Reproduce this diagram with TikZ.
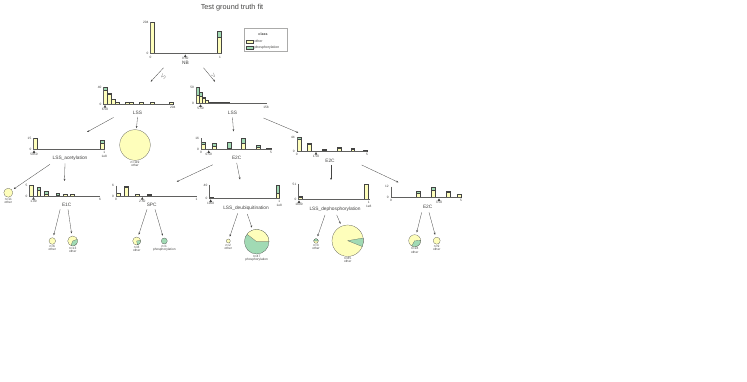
\documentclass[tikz,border=0pt]{standalone}
\usepackage{fontspec}
\setmainfont{Liberation Sans}
\usetikzlibrary{arrows.meta,positioning}
\definecolor{ink}{HTML}{444443}
\definecolor{yel}{HTML}{FEFEBB}
\definecolor{grn}{HTML}{A1DAB4}

\begin{document}
\begin{tikzpicture}[x=1pt, y=-1pt, >={Stealth[length=2.2pt,width=1.8pt]},
  ybox/.style={fill=yel, draw=ink, line width=0.15pt},
  gbox/.style={fill=grn, draw=ink, line width=0.15pt},
  spine/.style={draw=ink!85, line width=0.35pt},
  tk/.style={font=\fontsize{3.2}{3.4}\selectfont, text=ink, inner sep=0.3pt},
  feat/.style={font=\fontsize{4.8}{5}\selectfont, text=ink, inner sep=0.5pt},
  splitmark/.style={fill=ink},
  arr/.style={->, draw=ink, line width=0.3pt},
  leaf/.style={circle, draw=ink, fill=yel, line width=0.2pt, inner sep=0pt},
  lab/.style={font=\fontsize{3.2}{3.3}\selectfont, text=ink, align=center, inner sep=0.3pt},
  legtxt/.style={font=\fontsize{3.5}{4}\selectfont, text=ink, inner sep=0.3pt}]
  \fill[white] (0,0) rectangle (747,382);
  \useasboundingbox (0,0) rectangle (747,382);
  \node[font=\fontsize{7.3}{8}\selectfont, text=ink] (title) at (232,8) {Test ground truth fit};

  % legend
  \node[draw=ink!45, line width=0.3pt, minimum width=42.4pt, minimum height=23pt, inner sep=0pt] (legend) at (265.5,40) {};
  \node[legtxt, font=\fontsize{3.6}{4}\selectfont\bfseries] (legtitle) at (263,34.3) {class};
  \draw[ybox] (246.3,39.8) rectangle (252.7,43.2);
  \draw[gbox] (246.3,45.6) rectangle (252.7,49);
  \node[legtxt, anchor=west] (legother) at (254,41.5) {other};
  \node[legtxt, anchor=west] (legphos) at (254,47.3) {phosphorylation};

  % root: NB
  \draw[ybox] (150.5,53.5) rectangle (154.3,22.3);
  \draw[ybox] (217.3,53.5) rectangle (221,37.3);
  \draw[gbox] (217.3,37.3) rectangle (221,30.7);
  \draw[spine] (150.5,22.3) -- (150.5,53.5) -- (221.5,53.5);
  \node[tk, anchor=east] at (149,22.3) {204};
  \node[tk, anchor=east] at (149,53.5) {0};
  \node[tk] at (150.5,57) {0};
  \node[tk] at (220,57) {1};
  \fill[splitmark] (185.3,54.5) -- ++(-1.4,2.6) -- ++(2.8,0) -- cycle;
  \node[tk] at (185.3,58.8) {0.50};
  \node[feat] (nb) at (185.5,62.8) {NB};

  % level 1, left: LSS
  \foreach \l/\r/\y/\g in {103.5/107/89.7/87.3, 107/111/94.3/93.5, 111/115/99/99, 115/119/101.7/101.7,
      125/129/102.3/101.6, 129/133/101.7/101.7, 139.3/143.3/102.3/102.3, 150/154/102.3/101.6, 169.3/172.7/101.7/101.7} {
    \draw[ybox] (\l,104) rectangle (\r,\y);
    \draw[gbox] (\l,\y) rectangle (\r,\g);
  }
  \draw[spine] (103.5,87.3) -- (103.5,104) -- (173,104);
  \node[tk, anchor=east] at (102,87.3) {40};
  \node[tk, anchor=east] at (102,104) {0};
  \node[tk] at (172.7,107.5) {204};
  \fill[splitmark] (105,105) -- ++(-1.4,2.6) -- ++(2.8,0) -- cycle;
  \node[tk] at (105,109.2) {6.50};
  \node[feat] (lssA) at (137.5,113) {LSS};

  % level 1, right: LSS
  \foreach \l/\r/\y/\g in {196/199/95/87.3, 199/202/96/91.7, 202/205/98.3/97.5, 205/208/100.5/100.5, 208/211/101.7/101.7} {
    \draw[ybox] (\l,103.3) rectangle (\r,\y);
    \draw[gbox] (\l,\y) rectangle (\r,\g);
  }
  \draw[ink, line width=0.9pt] (211,102.8) -- (230,102.8);
  \draw[spine] (196,87.3) -- (196,103.3) -- (266.7,103.3);
  \node[tk, anchor=east] at (194.5,87.3) {50};
  \node[tk, anchor=east] at (194.5,103.3) {0};
  \node[tk] at (266,107) {158};
  \fill[splitmark] (200.5,104.3) -- ++(-1.4,2.6) -- ++(2.8,0) -- cycle;
  \node[tk] at (200.5,108.6) {5.50};
  \node[feat] (lssB) at (232.5,113) {LSS};

  \coordinate (t-lssA) at (150.7,81.7);
  \coordinate (t-lssB) at (215,81.7);
  \draw[arr] ([xshift=-22pt,yshift=-5pt]nb.center) -- (t-lssA);
  \draw[arr] ([xshift=18pt,yshift=-5pt]nb.center) -- (t-lssB);
  \node[rotate=48, font=\fontsize{4}{4}\selectfont, text=ink, inner sep=0pt] (le) at (163.3,76.5) {$\le$};
  \node[rotate=-50, font=\fontsize{4}{4}\selectfont, text=ink, inner sep=0pt] (gt) at (213.5,76) {$>$};

  % level 2: LSS_acetylation
  \draw[ybox] (33.3,149.3) rectangle (37,138.3);
  \draw[ybox] (100.3,149.3) rectangle (104.3,142.7);
  \draw[gbox] (100.3,142.7) rectangle (104.3,140);
  \draw[spine] (33.3,138.3) -- (33.3,149.3) -- (104.5,149.3);
  \node[tk, anchor=east] at (31.8,138.3) {15};
  \node[tk, anchor=east] at (31.8,149.3) {0};
  \node[tk] at (104.3,152.8) {1};
  \node[tk] at (104.3,156.3) {1e8};
  \fill[splitmark] (34,150.3) -- ++(-1.4,2.6) -- ++(2.8,0) -- cycle;
  \node[tk] at (34,154.5) {5950};
  \node[feat] (acet) at (70,158.3) {LSS\_acetylation};

  % level 2: leaf under LSS
  \node[leaf, minimum size=30.6pt] (leafA) at (135,145) {};
  \node[lab, below=0.4pt of leafA] {n=119\\other};

  % level 2: E2C (middle)
  \foreach \l/\r/\y/\g in {201/205/143.7/141.7, 212/216/146.3/143.3, 227.3/231/148.3/141.7, 241/245/143.3/138.3, 256/260/147/145} {
    \draw[ybox] (\l,149.3) rectangle (\r,\y);
    \draw[gbox] (\l,\y) rectangle (\r,\g);
  }
  \draw[ink, line width=0.9pt] (266,148.8) -- (271.5,148.8);
  \draw[spine] (201,138.3) -- (201,149.3) -- (272,149.3);
  \node[tk, anchor=east] at (199.5,138.3) {16};
  \node[tk, anchor=east] at (199.5,149.3) {0};
  \node[tk] at (201,152.8) {0};
  \node[tk] at (271,152.8) {5};
  \fill[splitmark] (208.7,150.3) -- ++(-1.4,2.6) -- ++(2.8,0) -- cycle;
  \node[tk] at (208.7,154.5) {0.50};
  \node[feat] (e2cA) at (236.7,158.3) {E2C};

  % level 2: E2C (right)
  \foreach \l/\r/\y/\g in {296.7/300.7/139/137.3, 307.3/311/144/143.3, 322/326/150/149, 337.3/341/148.5/147, 350.7/354.3/149/148.5, 363.3/367/149.7/149.7} {
    \draw[ybox] (\l,151) rectangle (\r,\y);
    \draw[gbox] (\l,\y) rectangle (\r,\g);
  }
  \draw[spine] (296.7,137.3) -- (296.7,151) -- (367.3,151);
  \node[tk, anchor=east] at (295.2,137.3) {44};
  \node[tk, anchor=east] at (295.2,151) {0};
  \node[tk] at (296.7,154.5) {0};
  \node[tk] at (367,154.5) {5};
  \fill[splitmark] (316,152) -- ++(-1.4,2.6) -- ++(2.8,0) -- cycle;
  \node[tk] at (316,156.2) {1.50};
  \node[feat] (e2cB) at (330,160.5) {E2C};

  \coordinate (t-acet) at (87,132);
  \coordinate (t-e2cA) at (233.5,131.5);
  \coordinate (t-e2cB) at (298.3,132.7);
  \draw[arr] ([xshift=-24pt,yshift=-4.5pt]lssA.center) -- (t-acet);
  \draw[arr, shorten >=1.5pt] ([yshift=-4pt]lssA.center) -- (leafA);
  \draw[arr] ([yshift=-4.5pt]lssB.center) -- (t-e2cA);
  \draw[arr] ([xshift=31pt,yshift=-5pt]lssB.center) -- (t-e2cB);

  % level 3: E1C
  \foreach \l/\r/\y/\g in {29.3/33/185/185, 36.7/40/189.7/186.7, 44.3/48/194.5/191, 55.7/59/194.7/193.3, 63.3/67/194.2/194.2, 70/74/194.2/194.2} {
    \draw[ybox] (\l,196) rectangle (\r,\y);
    \draw[gbox] (\l,\y) rectangle (\r,\g);
  }
  \draw[spine] (29.3,185) -- (29.3,196) -- (100,196);
  \node[tk, anchor=east] at (27.8,185) {5};
  \node[tk, anchor=east] at (27.8,196) {0};
  \node[tk] at (100,199.5) {6};
  \fill[splitmark] (33.5,197) -- ++(-1.4,2.6) -- ++(2.8,0) -- cycle;
  \node[tk] at (33.5,201.2) {1.00};
  \node[feat] (e1c) at (66.7,205) {E1C};

  % level 3: leaf under LSS_acetylation
  \node[leaf, minimum size=9pt] (leafB) at (8.3,192.7) {};
  \node[lab, below=0.4pt of leafB] {n=11\\other};

  % level 3: SPC
  \foreach \l/\r/\y/\g in {116/120/192.7/192.7, 124/128/187.3/185.7, 135/139/194/194, 146.7/151/194.8/194} {
    \draw[ybox] (\l,196) rectangle (\r,\y);
    \draw[gbox] (\l,\y) rectangle (\r,\g);
  }
  \draw[spine] (116,185.7) -- (116,196) -- (196.7,196);
  \node[tk, anchor=east] at (114.5,185.7) {6};
  \node[tk, anchor=east] at (114.5,196) {0};
  \node[tk] at (116,199.5) {0};
  \node[tk] at (196.5,199.5) {1};
  \fill[splitmark] (142.3,197) -- ++(-1.4,2.6) -- ++(2.8,0) -- cycle;
  \node[tk] at (142.3,201.2) {2.50};
  \node[feat] (spc) at (151.7,205) {SPC};

  % level 3: LSS_deubiquitination
  \draw[ybox] (209.3,198.3) rectangle (213,197.3);
  \draw[ybox] (276,198.3) rectangle (279.3,193.3);
  \draw[gbox] (276,193.3) rectangle (279.3,185);
  \draw[spine] (209.3,185) -- (209.3,198.3) -- (279.5,198.3);
  \node[tk, anchor=east] at (207.8,185) {40};
  \node[tk, anchor=east] at (207.8,198.3) {0};
  \node[tk] at (279.3,201.8) {1};
  \node[tk] at (279.3,205.3) {1e8};
  \fill[splitmark] (210.7,199.3) -- ++(-1.4,2.6) -- ++(2.8,0) -- cycle;
  \node[tk] at (210.7,203.5) {1950};
  \node[feat] (deub) at (246,208.3) {LSS\_deubiquitination};

  % level 3: LSS_dephosphorylation
  \draw[ybox] (298.3,199.3) rectangle (302,197);
  \draw[gbox] (298.3,197) rectangle (302,196.3);
  \draw[ybox] (364,199.3) rectangle (368.3,184.5);
  \draw[gbox] (364,184.5) rectangle (368.3,184);
  \draw[spine] (298.3,184) -- (298.3,199.3) -- (370,199.3);
  \node[tk, anchor=east] at (296.8,184) {51};
  \node[tk, anchor=east] at (296.8,199.3) {0};
  \node[tk] at (368.7,202.8) {1};
  \node[tk] at (368.7,206.3) {1e8};
  \fill[splitmark] (299,200.3) -- ++(-1.4,2.6) -- ++(2.8,0) -- cycle;
  \node[tk] at (299,204.5) {1800};
  \node[feat] (deph) at (335,209) {LSS\_dephosphorylation};

  % level 3: E2C
  \foreach \l/\r/\y/\g in {416/420/193.3/191, 431/435/190/186.7, 446/450/191.8/191.3, 457.3/461/194/194} {
    \draw[ybox] (\l,197.3) rectangle (\r,\y);
    \draw[gbox] (\l,\y) rectangle (\r,\g);
  }
  \draw[spine] (390.7,186.7) -- (390.7,197.3) -- (461.3,197.3);
  \node[tk, anchor=east] at (389.2,186.7) {12};
  \node[tk, anchor=east] at (389.2,197.3) {0};
  \node[tk] at (391,200.8) {0};
  \node[tk] at (461,200.8) {5};
  \fill[splitmark] (439,198.3) -- ++(-1.4,2.6) -- ++(2.8,0) -- cycle;
  \node[tk] at (439,202.5) {3.50};
  \node[feat] (e2cC) at (427.7,207.3) {E2C};

  \coordinate (t-e1c) at (64.5,181);
  \coordinate (t-spc) at (176.7,181.7);
  \coordinate (t-deub) at (240,179.5);
  \coordinate (t-deph) at (331,180);
  \coordinate (t-e2cC) at (398.3,182.3);
  \draw[arr, shorten >=2pt] ([xshift=-20pt,yshift=-6pt]acet.center) -- (leafB);
  \draw[arr] ([xshift=-5pt,yshift=-5pt]acet.center) -- (t-e1c);
  \draw[arr] ([xshift=-24pt,yshift=-6.5pt]e2cA.center) -- (t-spc);
  \draw[arr] ([yshift=-4.5pt]e2cA.center) -- (t-deub);
  \draw[arr] ([xshift=1pt,yshift=-4.5pt]e2cB.center) -- (t-deph);
  \draw[arr] ([xshift=31.7pt,yshift=-4.5pt]e2cB.center) -- (t-e2cC);

  % leaves
  \node[leaf, minimum size=6.6pt] (e1cL) at (52.3,241) {};
  \node[leaf, minimum size=10pt] (e1cR) at (72.7,241) {};
  \draw[gbox] (e1cR.center) -- ++(-110:5pt) arc[start angle=-110, end angle=20, radius=5pt] -- cycle;
  \node[leaf, minimum size=8pt] (spcL) at (136.7,241) {};
  \draw[gbox] (spcL.center) -- ++(-80:4pt) arc[start angle=-80, end angle=10, radius=4pt] -- cycle;
  \node[leaf, fill=grn, minimum size=6pt] (spcR) at (164.3,241) {};
  \node[leaf, minimum size=4pt] (deubL) at (228.3,241) {};
  \node[leaf, fill=grn, minimum size=24.6pt] (deubR) at (256.7,241.7) {};
  \draw[ybox] (deubR.center) -- ++(0:12.3pt) arc[start angle=0, end angle=142, radius=12.3pt] -- cycle;
  \node[leaf, minimum size=4.6pt] (dephL) at (316,241) {};
  \draw[gbox] (dephL.center) -- ++(0:2.3pt) arc[start angle=0, end angle=180, radius=2.3pt] -- cycle;
  \node[leaf, minimum size=31.4pt] (dephR) at (347.7,240.7) {};
  \draw[gbox] (dephR.center) -- ++(-22:15.7pt) arc[start angle=-22, end angle=10, radius=15.7pt] -- cycle;
  \node[leaf, minimum size=12pt] (e2cL) at (414.7,240.7) {};
  \draw[gbox] (e2cL.center) -- ++(-120:6pt) arc[start angle=-120, end angle=5, radius=6pt] -- cycle;
  \node[leaf, minimum size=7pt] (e2cR) at (436.7,240.7) {};

  \node[lab, below=0.4pt of e1cL] {n=6\\other};
  \node[lab, below=0.4pt of e1cR] {n=13\\other};
  \node[lab, below=0.4pt of spcL] {n=8\\other};
  \node[lab, below=0.4pt of spcR] {n=1\\phosphorylation};
  \node[lab, below=0.4pt of deubL] {n=2\\other};
  \node[lab, below=0.4pt of deubR] {n=47\\phosphorylation};
  \node[lab, below=0.4pt of dephL] {n=3\\other};
  \node[lab, below=0.4pt of dephR] {n=85\\other};
  \node[lab, below=0.4pt of e2cL] {n=18\\other};
  \node[lab, below=0.4pt of e2cR] {n=9\\other};

  \draw[arr, shorten >=2.5pt] ([xshift=-6.5pt,yshift=-4.3pt]e1c.center) -- (e1cL);
  \draw[arr, shorten >=2.5pt] ([xshift=1.3pt,yshift=-4.3pt]e1c.center) -- (e1cR);
  \draw[arr, shorten >=2.5pt] ([xshift=-4.7pt,yshift=-4.3pt]spc.center) -- (spcL);
  \draw[arr, shorten >=2.5pt] ([xshift=3.3pt,yshift=-4.3pt]spc.center) -- (spcR);
  \draw[arr, shorten >=2.5pt] ([xshift=-8.3pt,yshift=-5pt]deub.center) -- (deubL);
  \draw[arr, shorten >=2.5pt] ([xshift=1.3pt,yshift=-5.7pt]deub.center) -- (deubR);
  \draw[arr, shorten >=2.5pt] ([xshift=-10pt,yshift=-6pt]deph.center) -- (dephL);
  \draw[arr, shorten >=2.5pt] ([xshift=1.7pt,yshift=-6pt]deph.center) -- (dephR);
  \draw[arr, shorten >=2.5pt] ([xshift=-6pt,yshift=-5pt]e2cC.center) -- (e2cL);
  \draw[arr, shorten >=2.5pt] ([xshift=1.3pt,yshift=-5pt]e2cC.center) -- (e2cR);
\end{tikzpicture}
\end{document}
